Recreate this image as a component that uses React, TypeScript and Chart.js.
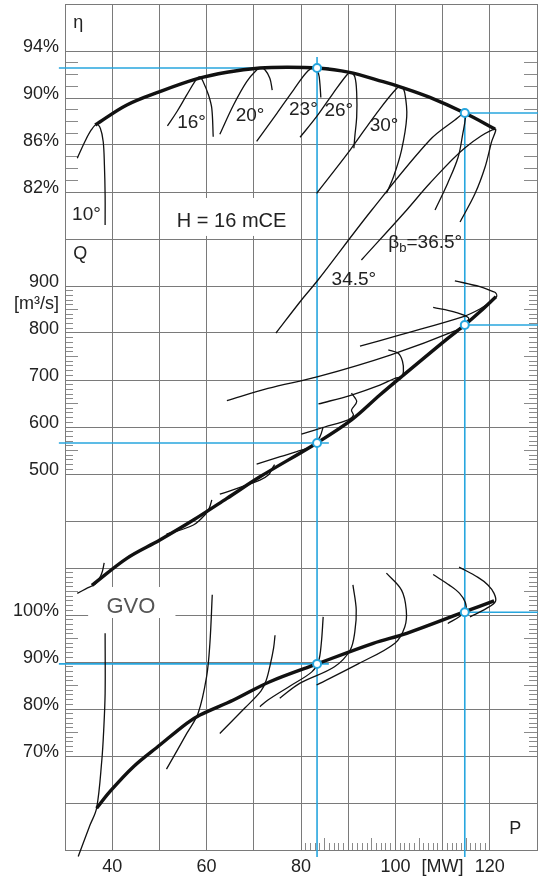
import React, { useEffect, useRef } from 'react';
import { Chart, registerables } from 'chart.js';

Chart.register(...registerables);

const FONT = "'Liberation Sans', Arial, Helvetica, sans-serif";
const INK = '#111111';
const TEXT = '#222222';
const GRID = '#7a7a7a';
const TICK = '#8a8a8a';
const BLUE = '#27a6de';

// ---------------- axes ----------------
const pMin = 30;
const pMax = 130;
const pGrid = [30, 40, 50, 60, 70, 80, 90, 100, 110, 120, 130];
const pLabels: Record<string, string> = { '40': '40', '60': '60', '80': '80', '100': '100', '110': '[MW]', '120': '120' };
const pMinorShort = [81, 82, 83, 84, 86, 87, 88, 89, 91, 92, 93, 94, 96, 97, 98, 99, 101, 102, 103, 104, 106, 107, 108, 109, 111, 112, 113, 114, 116, 117, 118, 119];
const pMinorMid = [85, 95, 105, 115];
const rowCount = 18;

const etaTicks = [82, 86, 90, 94];
const etaMinor = [83, 84, 85, 87, 88, 89, 91, 92, 93];
const qTicks = [500, 600, 700, 800, 900];
const qMinorShort = [510, 520, 530, 540, 560, 570, 580, 590, 610, 620, 630, 640, 660, 670, 680, 690, 710, 720, 730, 740, 760, 770, 780, 790, 810, 820, 830, 840, 860, 870, 880, 890];
const qMinorLong = [550, 650, 750, 850];
const qUnitLabel = '[m³/s]';
const qUnitAt = 853;
const gvoTicks = [70, 80, 90, 100];
const gvoMinorShort = [71, 72, 73, 74, 76, 77, 78, 79, 81, 82, 83, 84, 86, 87, 88, 89, 91, 92, 93, 94, 96, 97, 98, 99, 101, 102, 103, 104, 106, 107, 108, 109];
const gvoMinorLong = [75, 85, 95, 105];

// panel value -> common row units (0 = bottom, 18 = top)
const uEta = (v: number) => (v - 26) / 4;
const uQ = (v: number) => v / 100 + 3;
const uGvo = (v: number) => v / 10 - 5;

type Pt = [number, number];

// ---------------- efficiency η [%] vs P [MW] ----------------
const etaOnCam: Pt[] = [[36.4, 87.7], [43.1, 89.4], [50.1, 90.54], [57.9, 91.62], [64.3, 92.19], [71.3, 92.55], [77, 92.62], [83.4, 92.55], [90, 92.2], [97.4, 91.39], [101.3, 90.91], [107.3, 90.05], [114.7, 88.72], [121.1, 87.36]];
const eta10: Pt[] = [[32.6, 84.87], [34.2, 86.28], [35.6, 87.3], [36.7, 87.75], [37.5, 87.4], [38.1, 86.28], [38.35, 84.3], [38.5, 81.7], [38.5, 79.2]];
const eta16: Pt[] = [[51.7, 87.62], [53.7, 88.83], [55.8, 90.26], [57.9, 91.62], [58.6, 91.8], [59.2, 91.45], [60.4, 90.26], [61.1, 89.12], [61.4, 86.71]];
const eta20: Pt[] = [[62.8, 86.91], [65.7, 89.4], [68.5, 91.39], [70.6, 92.38], [71.5, 92.58], [72.4, 92.38], [73.4, 91.68], [73.9, 90.68]];
const eta23: Pt[] = [[70.6, 86.3], [74.9, 88.7], [78.4, 90.68], [81.5, 92.32], [83.0, 92.55], [83.7, 92.1], [84.0, 91.25], [84.2, 90.04]];
const eta26: Pt[] = [[79.8, 86.66], [83.3, 88.41], [86.8, 90.4], [89.7, 91.96], [90.5, 92.17], [91.4, 91.81], [91.8, 90.4], [91.8, 88.41], [91.4, 86.71], [91.2, 85.72]];
const eta30: Pt[] = [[83.3, 81.89], [90.4, 85.57], [96.0, 88.7], [100.3, 90.83], [101.3, 90.95], [102.0, 90.4], [102.4, 88.41], [101.3, 85.57], [99.6, 83.3], [98.1, 81.89]];
const eta345: Pt[] = [[74.7, 70.0], [80.1, 72.81], [83.6, 74.51], [95.0, 80.47], [107.3, 86.43], [112.6, 88.13], [114.7, 88.72], [114.8, 88.2], [114.3, 87.02], [113.3, 84.98], [111.1, 82.77], [108.4, 80.47]];
const eta365: Pt[] = [[92.8, 76.21], [102.4, 80.47], [107.3, 82.74], [114.7, 85.75], [121.1, 87.36], [120.3, 86.17], [119.0, 84.13], [116.9, 81.89], [113.7, 79.45]];

// ---------------- discharge Q [m³/s] vs P [MW] ----------------
const qOnCam: Pt[] = [[35.7, 263], [43.1, 320.6], [50.1, 359.6], [57.2, 402], [64.3, 448], [71.3, 494], [83.2, 565], [90.7, 615], [96.7, 668], [101.3, 707], [110.9, 787], [114.7, 817], [117.9, 845], [121.3, 877]];
const q10: Pt[] = [[32.6, 246], [34.5, 256], [36.4, 266], [37.3, 278], [37.9, 292], [38.3, 311]];
const q16: Pt[] = [[51.5, 372], [57.2, 391.5], [59.9, 416], [60.6, 428], [61.1, 445]];
const q20: Pt[] = [[62.8, 457], [71.3, 487], [73.2, 499], [73.8, 510], [74.4, 520]];
const q23: Pt[] = [[70.6, 521], [75.6, 537], [79.1, 547.5], [82.5, 560], [84.0, 579], [84.7, 600]];
const q26: Pt[] = [[80.1, 585], [85, 600], [90.0, 615], [91.1, 625], [90.7, 636], [91.8, 654], [90.7, 672]];
const q30: Pt[] = [[83.7, 649], [90.7, 668], [96.7, 689], [99.9, 703.6], [101.3, 707], [101.7, 718], [101.5, 740], [100.6, 757], [98.5, 764]];
const q345: Pt[] = [[64.3, 656], [73.0, 682], [83.6, 707], [98.9, 753], [113.0, 806], [114.7, 819], [115.5, 832], [112.6, 844.6], [108.0, 854.7]];
const q365: Pt[] = [[92.5, 772], [101.0, 796], [114.4, 835], [117.9, 851], [120.4, 868], [121.5, 879], [121.2, 886], [120.7, 888], [117.9, 898.5], [112.6, 911]];

// ---------------- guide vane opening GVO [%] vs P [MW] ----------------
const gOnCam: Pt[] = [[36.7, 58.87], [39.5, 62.41], [44.5, 67.72], [50.1, 72.33], [55.8, 76.95], [58.6, 78.72], [65.7, 81.91], [73.4, 85.81], [83.4, 89.6], [95.3, 93.98], [102.4, 96.1], [114.7, 100.7], [120.9, 103.0]];
const g10: Pt[] = [[32.8, 48.6], [35.3, 55.3], [36.7, 58.9], [37.8, 69.1], [38.2, 75.5], [38.5, 83.3], [38.5, 96.1]];
const g16: Pt[] = [[51.5, 67.2], [55.8, 74.8], [58.2, 79.1], [60.0, 86.9], [60.7, 94.0], [61.2, 104.3]];
const g20: Pt[] = [[62.8, 74.8], [68.1, 80.2], [71.5, 83.8], [72.6, 86.0], [73.5, 89.5], [74.2, 93], [74.5, 95.7]];
const g23: Pt[] = [[71.3, 80.5], [73.0, 81.9], [77.7, 84.9], [82.3, 87.9], [83.7, 90.1], [84.3, 94.0], [84.7, 99.6]];
const g26: Pt[] = [[75.5, 82.3], [79.8, 85.5], [87.1, 89.0], [90.4, 92.5], [91.4, 96.4], [91.7, 101.1], [91.0, 106.4]];
const g30: Pt[] = [[83.3, 85.1], [92.1, 89.6], [99.9, 94.0], [102.0, 97.5], [102.3, 101.1], [101.3, 105.3], [98.1, 108.9]];
const g345: Pt[] = [[111.1, 98.2], [113.6, 99.7], [114.9, 101.0], [114.8, 102.7], [113.6, 104.6], [111.5, 106.3], [108.0, 108.6]];
const g365: Pt[] = [[115.8, 99.6], [119.3, 101.4], [121.2, 102.9], [120.9, 104.6], [119.6, 106.4], [117.5, 108.0], [113.5, 110.2]];

// ---------------- operating points (blue reading lines) ----------------
const readP = [83.4, 114.7];
const readEta = [92.55, 88.72];
const readQ = [566, 817];
const readGvo = [89.6, 100.6];
const guideTopEta = 93.5;
const guideLeftP = 28.7;
const guideTailP = 85.9;
const guideRightP = 130.2;
const guideBottomU = -0.15;

// ---------------- text notes ----------------
const notes = [
  { text: 'η', p: 32.82, at: uEta(96.4), size: 18 },
  { text: 'Q', p: 33.24, at: uQ(967), size: 18 },
  { text: 'P', p: 125.4, at: uGvo(54.4), size: 18 },
  { text: '10°', p: 34.55, at: uEta(80.09), size: 19 },
  { text: '16°', p: 56.8, at: uEta(87.92), size: 19 },
  { text: '20°', p: 69.2, at: uEta(88.48), size: 19 },
  { text: '23°', p: 80.5, at: uEta(89.03), size: 19 },
  { text: '26°', p: 88.0, at: uEta(88.88), size: 19 },
  { text: '30°', p: 97.6, at: uEta(87.6), size: 19 },
  { text: '34.5°', p: 91.2, at: uEta(74.56), size: 19 },
];
const headNote = { text: 'H = 16 mCE', p: 65.3, at: uEta(79.52), size: 20, box: [52.7, 78.1, uEta(81.49), uEta(78.26)] };
const gvoNote = { text: 'GVO', p: 43.95, at: uGvo(101.74), size: 22, box: [34.9, 53.4, uGvo(105.96), uGvo(99.36)] };
const bladeNote = { p: 98.5, at: uEta(77.71), sym: 'β', sub: 'b', rest: '=36.5°' };

// ---------------- helpers ----------------
const xy = (pts: Pt[], conv: (v: number) => number) => pts.map(([p, v]) => ({ x: p, y: conv(v) }));

const thinSet = (pts: Pt[], conv: (v: number) => number, extra: any = {}) => ({
  type: 'line', data: xy(pts, conv), borderColor: INK, borderWidth: 1.3, pointRadius: 0,
  tension: 0.35, fill: false, order: 2, ...extra,
});
const thickSet = (pts: Pt[], conv: (v: number) => number) => ({
  type: 'line', data: xy(pts, conv), borderColor: INK, borderWidth: 3.4, pointRadius: 0,
  tension: 0.35, fill: false, order: 1, borderCapStyle: 'butt',
});
const guideSet = (a: { x: number; y: number }, b: { x: number; y: number }) => ({
  type: 'line', data: [a, b], borderColor: BLUE, borderWidth: 1.6, pointRadius: 0,
  tension: 0, fill: false, order: 3, clip: false,
});

const convs = [uEta, uQ, uGvo];
const reads = [readEta, readQ, readGvo];

const datasets: any[] = [];
datasets.push(guideSet({ x: readP[0], y: uEta(guideTopEta) }, { x: readP[0], y: guideBottomU }));
datasets.push(guideSet({ x: readP[1], y: uEta(readEta[1]) }, { x: readP[1], y: guideBottomU }));
convs.forEach((c, i) => {
  datasets.push(guideSet({ x: guideLeftP, y: c(reads[i][0]) }, { x: guideTailP, y: c(reads[i][0]) }));
  datasets.push(guideSet({ x: readP[1], y: c(reads[i][1]) }, { x: guideRightP, y: c(reads[i][1]) }));
});
[eta10, eta16, eta20, eta23, eta26, eta30, eta345, eta365].forEach((s) => datasets.push(thinSet(s, uEta)));
[q10, q16, q20, q23, q26, q30, q345, q365].forEach((s) => datasets.push(thinSet(s, uQ)));
[g16, g20, g23, g26, g30, g345, g365].forEach((s) => datasets.push(thinSet(s, uGvo)));
datasets.push(thinSet(g10, uGvo, { clip: false }));
datasets.push(thickSet(etaOnCam, uEta));
datasets.push(thickSet(qOnCam, uQ));
datasets.push(thickSet(gOnCam, uGvo));
const markerData: { x: number; y: number }[] = [];
convs.forEach((c, i) => {
  markerData.push({ x: readP[0], y: c(reads[i][0]) });
  markerData.push({ x: readP[1], y: c(reads[i][1]) });
});
datasets.push({
  type: 'line', data: markerData, showLine: false, pointRadius: 4, pointBorderWidth: 2,
  pointBackgroundColor: '#ffffff', pointBorderColor: BLUE, order: 0, clip: false,
});

// y tick labels
const yLabelMap = new Map<string, string>();
etaTicks.forEach((v) => yLabelMap.set(uEta(v).toFixed(3), v + '%'));
qTicks.forEach((v) => yLabelMap.set(uQ(v).toFixed(3), String(v)));
gvoTicks.forEach((v) => yLabelMap.set(uGvo(v).toFixed(3), v + '%'));
yLabelMap.set(uQ(qUnitAt).toFixed(3), qUnitLabel);
const yGridValues: number[] = [];
for (let r = 0; r <= rowCount; r++) yGridValues.push(r);
const yTickValues = [...yGridValues, uQ(qUnitAt)].sort((a, b) => a - b);

const zeroPad = (s: any) => { s.paddingTop = 0; s.paddingBottom = 0; s.paddingLeft = 0; s.paddingRight = 0; };

const minorY = (atP: number, values: number[], len: number) => ({
  type: 'linear', axis: 'y', position: { x: atP }, min: 0, max: rowCount,
  afterBuildTicks: (s: any) => { s.ticks = values.map((v) => ({ value: v })); },
  afterFit: zeroPad,
  ticks: { display: false, autoSkip: false, padding: 0 },
  grid: { display: true, drawOnChartArea: false, drawTicks: true, tickLength: len, tickColor: TICK, tickWidth: 1 },
  border: { display: false },
});
const minorX = (values: number[], len: number) => ({
  type: 'linear', axis: 'x', position: { y: 0 }, min: pMin, max: pMax,
  afterBuildTicks: (s: any) => { s.ticks = values.map((v) => ({ value: v })); },
  afterFit: zeroPad,
  ticks: { display: false, autoSkip: false, padding: 0 },
  grid: { display: true, drawOnChartArea: false, drawTicks: true, tickLength: len, tickColor: TICK, tickWidth: 1 },
  border: { display: false },
});

const shortU = [...qMinorShort.map(uQ), ...gvoMinorShort.map(uGvo)];
const longU = [...etaMinor.map(uEta), ...qMinorLong.map(uQ), ...gvoMinorLong.map(uGvo)];

const textPlugin = {
  id: 'chartNotes',
  beforeDatasetsDraw(chart: any) {
    const { ctx, scales } = chart;
    ctx.save();
    ctx.fillStyle = '#ffffff';
    [headNote, gvoNote].forEach((n) => {
      const x0 = scales.x.getPixelForValue(n.box[0]);
      const x1 = scales.x.getPixelForValue(n.box[1]);
      const y0 = scales.y.getPixelForValue(n.box[2]);
      const y1 = scales.y.getPixelForValue(n.box[3]);
      ctx.fillRect(x0, y0, x1 - x0, y1 - y0);
    });
    ctx.restore();
  },
  afterDatasetsDraw(chart: any) {
    const { ctx, scales } = chart;
    ctx.save();
    ctx.textBaseline = 'middle';
    ctx.textAlign = 'center';
    ctx.fillStyle = TEXT;
    [...notes, headNote].forEach((n) => {
      ctx.font = `${n.size}px ${FONT}`;
      ctx.fillText(n.text, scales.x.getPixelForValue(n.p), scales.y.getPixelForValue(n.at));
    });
    ctx.fillStyle = '#555555';
    ctx.font = `${gvoNote.size}px ${FONT}`;
    ctx.fillText(gvoNote.text, scales.x.getPixelForValue(gvoNote.p), scales.y.getPixelForValue(gvoNote.at));
    ctx.fillStyle = TEXT;
    ctx.textAlign = 'left';
    let bx = scales.x.getPixelForValue(bladeNote.p);
    const by = scales.y.getPixelForValue(bladeNote.at);
    ctx.font = `19px ${FONT}`;
    ctx.fillText(bladeNote.sym, bx, by);
    bx += ctx.measureText(bladeNote.sym).width;
    ctx.font = `13px ${FONT}`;
    ctx.fillText(bladeNote.sub, bx, by + 6);
    bx += ctx.measureText(bladeNote.sub).width;
    ctx.font = `19px ${FONT}`;
    ctx.fillText(bladeNote.rest, bx, by);
    ctx.restore();
  },
};

const config: any = {
  type: 'line',
  data: { datasets },
  plugins: [textPlugin],
  options: {
    responsive: false,
    animation: false,
    devicePixelRatio: 1,
    events: [],
    layout: { autoPadding: false, padding: { top: 4, right: 1, bottom: 0, left: 0 } },
    plugins: { legend: { display: false }, tooltip: { enabled: false } },
    scales: {
      x: {
        type: 'linear', position: 'bottom', min: pMin, max: pMax,
        afterBuildTicks: (s: any) => { s.ticks = pGrid.map((v) => ({ value: v })); },
        afterFit: (s: any) => { s.height = 29; zeroPad(s); },
        ticks: {
          autoSkip: false, maxRotation: 0, minRotation: 0, padding: 0, color: TEXT,
          font: { size: 18, family: FONT, lineHeight: 1.9 },
          callback: (v: number) => pLabels[String(v)] ?? '',
        },
        grid: { color: GRID, lineWidth: 1, drawTicks: false },
        border: { display: true, color: GRID, width: 1 },
      },
      y: {
        type: 'linear', position: 'left', min: 0, max: rowCount,
        afterBuildTicks: (s: any) => { s.ticks = yTickValues.map((v) => ({ value: v })); },
        afterFit: (s: any) => { s.width = 65; zeroPad(s); },
        ticks: {
          autoSkip: false, padding: 6, labelOffset: -4, color: TEXT,
          font: { size: 18, family: FONT },
          callback: (v: number) => yLabelMap.get(Number(v).toFixed(3)) ?? '',
        },
        grid: {
          color: (c: any) => (c.tick && Math.abs(c.tick.value - uQ(qUnitAt)) < 1e-6 ? 'rgba(0,0,0,0)' : GRID),
          lineWidth: 1, drawTicks: false,
        },
        border: { display: true, color: GRID, width: 1 },
      },
      yMinLS: minorY(pMin, shortU, -8),
      yMinLL: minorY(pMin, longU, -13),
      yMinRS: minorY(pMax, shortU, 8),
      yMinRL: minorY(pMax, longU, 13),
      xMinS: minorX(pMinorShort, -7),
      xMinM: minorX(pMinorMid, -12),
    },
  },
};

export default function App() {
  const ref = useRef<HTMLCanvasElement>(null);
  useEffect(() => {
    const chart = new Chart(ref.current as HTMLCanvasElement, config);
    return () => chart.destroy();
  }, []);
  return (
    <div style={{ position: 'absolute', left: 0, top: 0, width: 538, height: 879, background: '#ffffff' }}>
      <canvas ref={ref} width={538} height={879} style={{ display: 'block' }} />
    </div>
  );
}
